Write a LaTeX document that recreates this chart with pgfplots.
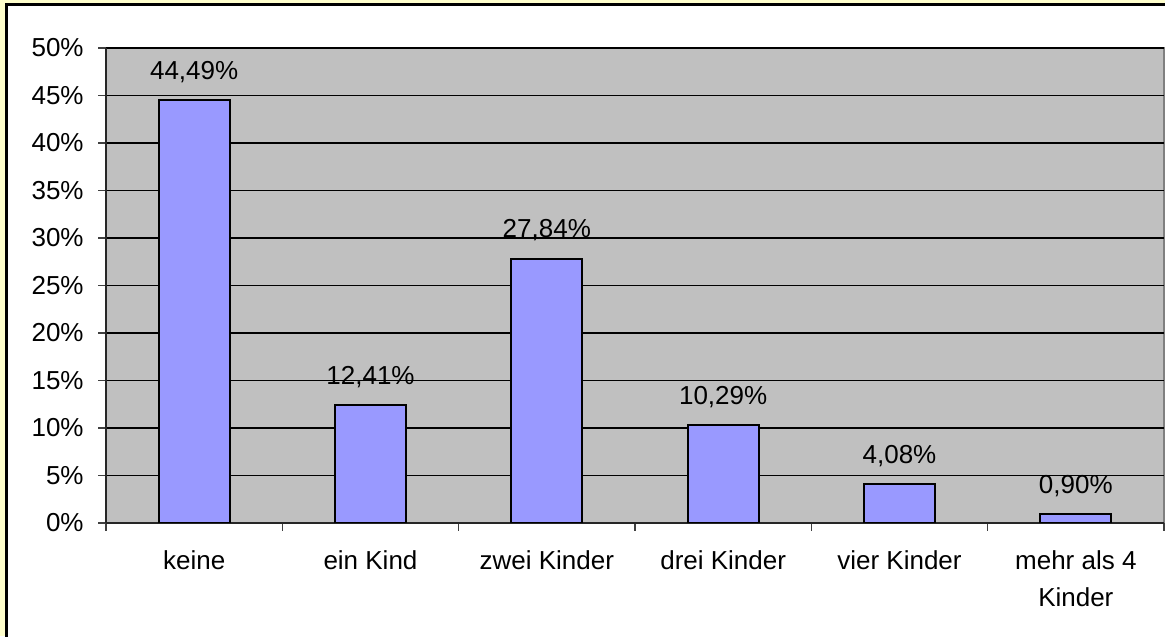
\documentclass[border=0pt]{standalone}
\usepackage{fontspec}
\setmainfont{Liberation Sans}
\usepackage{pgfplots}
\pgfplotsset{compat=1.18}
\definecolor{bgyellow}{HTML}{FFFFCC}
\definecolor{plotgray}{HTML}{C0C0C0}
\definecolor{bordergray}{HTML}{808080}
\definecolor{barblue}{HTML}{9999FF}
\begin{document}
\fontsize{13}{18.5}\selectfont
\begin{tikzpicture}[x=0.5pt,y=0.5pt]
\path[use as bounding box] (0,0) rectangle (1165,636);
\fill[bgyellow] (0,0) rectangle (1165,636);
\filldraw[fill=white, draw=black, line width=1.5pt] (6.5,-20) rectangle (1190,631.5);
\begin{axis}[
  at={(53pt,56.5pt)}, anchor=south west,
  scale only axis, width=529pt, height=237.5pt,
  xmin=-0.5, xmax=5.5, ymin=0, ymax=50,
  ybar, bar width=35.5pt, bar shift=0pt,
  axis background/.style={fill=plotgray, draw=bordergray, line width=1pt},
  axis lines*=left,
  axis line style={draw=black!85, line width=1pt, -},
  ymajorgrids, grid style={black, line width=0.6pt},
  ytick={0,5,...,50},
  yticklabel={\pgfmathprintnumber{\tick}\%},
  /pgf/number format/assume math mode=true,
  xtick={0,...,5},
  xticklabels={keine, ein Kind, zwei Kinder, drei Kinder, vier Kinder, {mehr als 4\\Kinder}},
  minor xtick={-0.5,0.5,...,5.5},
  tick align=outside,
  major tick length=4pt, minor tick length=4pt,
  tick style={draw=black!75, line width=0.8pt},
  major x tick style={draw=none},
  ticklabel style={font=\fontsize{13}{18.5}\selectfont},
  xticklabel style={align=center, anchor=north, inner sep=0pt, yshift=-9.5pt},
  every y tick label/.append style={anchor=east, inner ysep=0pt, inner xsep=7pt},
  nodes near coords, point meta=explicit symbolic,
  every node near coord/.append style={anchor=base, yshift=10.5pt, inner sep=0pt, font=\fontsize{13}{18.5}\selectfont, text=black},
]
\addplot[fill=barblue, draw=black, line width=1pt] coordinates {
  (0,44.49) [44,49\%]
  (1,12.41) [12,41\%]
  (2,27.84) [27,84\%]
  (3,10.29) [10,29\%]
  (4,4.08)  [4,08\%]
  (5,0.90)  [0,90\%]
};
\end{axis}
\end{tikzpicture}
\end{document}
